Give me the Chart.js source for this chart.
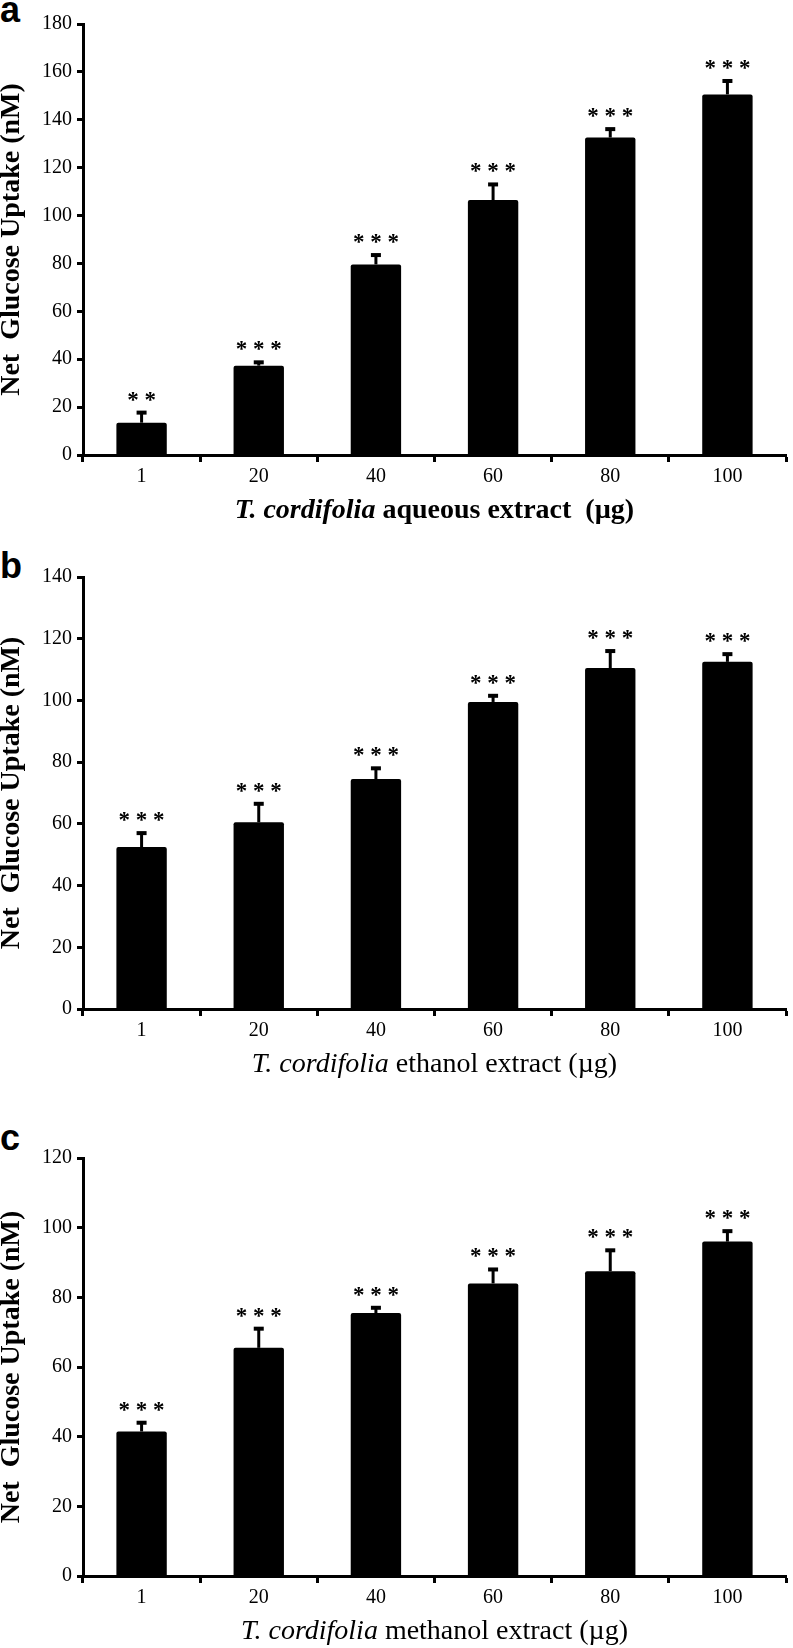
<!DOCTYPE html>
<html>
<head>
<meta charset="utf-8">
<script src="https://cdn.jsdelivr.net/npm/chart.js@4"></script>
<style>
  html, body { margin: 0; padding: 0; background: #fff; }
  body { width: 793px; height: 1648px; position: relative; overflow: hidden; }
  canvas { position: absolute; left: 0; }
  .tag { position: absolute; left: 0; font: bold 36px "Liberation Sans", Arial, sans-serif; line-height: 1; color: #000; }
</style>
</head>
<body>
<div class="tag" style="top:-8px">a</div>
<div class="tag" style="top:548px">b</div>
<div class="tag" style="top:1120px">c</div>
<canvas id="chartA" width="793" height="540" style="top:0px"></canvas>
<canvas id="chartB" width="793" height="545" style="top:540px"></canvas>
<canvas id="chartC" width="793" height="548" style="top:1100px"></canvas>
<script>
const doses = ['1', '20', '40', '60', '80', '100'];

const aqueousMeans = [13.5, 37.3, 79.6, 106.5, 132.6, 150.6];
const aqueousErrors = [4.2, 1.4, 3.9, 6.5, 3.5, 5.6];
const aqueousStars = ['**', '***', '***', '***', '***', '***'];

const ethanolMeans = [52.5, 60.5, 74.5, 99.5, 110.5, 112.5];
const ethanolErrors = [4.5, 6.0, 3.5, 2.0, 5.5, 2.5];
const ethanolStars = ['***', '***', '***', '***', '***', '***'];

const methanolMeans = [41.5, 65.5, 75.5, 84.0, 87.5, 96.0];
const methanolErrors = [2.5, 5.5, 1.5, 4.0, 6.0, 3.0];
const methanolStars = ['***', '***', '***', '***', '***', '***'];

const yMaxA = 180, yMaxB = 140, yMaxC = 120, yStep = 20;

const serif = '"Liberation Serif", "Times New Roman", serif';

const errorBars = {
    id: 'errorBars',
    afterDatasetsDraw(chart, args, opts) {
        const ctx = chart.ctx;
        const y = chart.scales.y;
        const meta = chart.getDatasetMeta(0);
        ctx.save();
        ctx.fillStyle = '#000';
        ctx.strokeStyle = '#000';
        meta.data.forEach((bar, i) => {
            const top = y.getPixelForValue(opts.means[i] + opts.errors[i]);
            ctx.lineWidth = 3;
            ctx.beginPath();
            ctx.moveTo(bar.x, bar.y);
            ctx.lineTo(bar.x, top);
            ctx.stroke();
            ctx.fillRect(bar.x - 5, top - 2, 10, 4);
            ctx.font = 'bold 23px ' + serif;
            ctx.textAlign = 'center';
            ctx.textBaseline = 'alphabetic';
            ctx.fillText(opts.stars[i].split('').join(' '), bar.x, top - 6);
        });
        ctx.restore();
    }
};

// x title mixes italic species name with plain text
const xTitle = {
    id: 'xTitle',
    afterDraw(chart, args, opts) {
        const { ctx, chartArea } = chart;
        const w = opts.bold ? 'bold ' : '';
        const f1 = 'italic ' + w + '28px ' + serif;
        const f2 = w + '28px ' + serif;
        ctx.save();
        ctx.font = f1;
        const w1 = ctx.measureText(opts.species).width;
        ctx.font = f2;
        const w2 = ctx.measureText(opts.rest).width;
        const x = (chartArea.left + chartArea.right) / 2 - (w1 + w2) / 2;
        const yPos = chartArea.bottom + 63;
        ctx.fillStyle = '#000';
        ctx.textAlign = 'left';
        ctx.textBaseline = 'alphabetic';
        ctx.font = f1;
        ctx.fillText(opts.species, x, yPos);
        ctx.font = f2;
        ctx.fillText(opts.rest, x + w1, yPos);
        ctx.restore();
    }
};

function makePanel(id, means, errors, stars, yMax, padTop, xHeight, rest, bold) {
    const el = document.getElementById(id);
    return new Chart(el, {
        type: 'bar',
        data: {
            labels: doses,
            datasets: [{
                data: means,
                backgroundColor: '#000',
                borderWidth: 0,
                borderRadius: 2,
                barPercentage: 0.43,
                categoryPercentage: 1
            }]
        },
        options: {
            responsive: false,
            animation: false,
            layout: { padding: { top: padTop, right: 7, left: 0, bottom: 0 } },
            plugins: {
                legend: { display: false },
                tooltip: { enabled: false },
                errorBars: { means: means, errors: errors, stars: stars },
                xTitle: { species: 'T. cordifolia', rest: rest, bold: bold }
            },
            scales: {
                x: {
                    grid: { offset: true, drawOnChartArea: false, tickLength: 7, tickWidth: 3, tickColor: '#000' },
                    border: { color: '#000', width: 3 },
                    ticks: { color: '#000', font: { family: serif, size: 20 }, padding: 3 },
                    afterFit(s) { s.height = xHeight; }
                },
                y: {
                    min: 0,
                    max: yMax,
                    ticks: { stepSize: yStep, color: '#000', font: { family: serif, size: 20 }, padding: 5 },
                    grid: { drawOnChartArea: false, tickLength: 6, tickWidth: 3, tickColor: '#000' },
                    border: { color: '#000', width: 3 },
                    title: {
                        display: true,
                        text: 'Net  Glucose Uptake (nM)',
                        color: '#000',
                        font: { family: serif, size: 28, weight: 'bold', lineHeight: 0.85 },
                        padding: 0
                    },
                    afterFit(s) { s.width = 83; }
                }
            }
        },
        plugins: [errorBars, xTitle]
    });
}

makePanel('chartA', aqueousMeans, aqueousErrors, aqueousStars, yMaxA, 24, 85, ' aqueous extract  (\u00b5g)', true);
makePanel('chartB', ethanolMeans, ethanolErrors, ethanolStars, yMaxB, 37, 76, ' ethanol extract (\u00b5g)', false);
makePanel('chartC', methanolMeans, methanolErrors, methanolStars, yMaxC, 58, 72, ' methanol extract (\u00b5g)', false);
</script>
</body>
</html>
